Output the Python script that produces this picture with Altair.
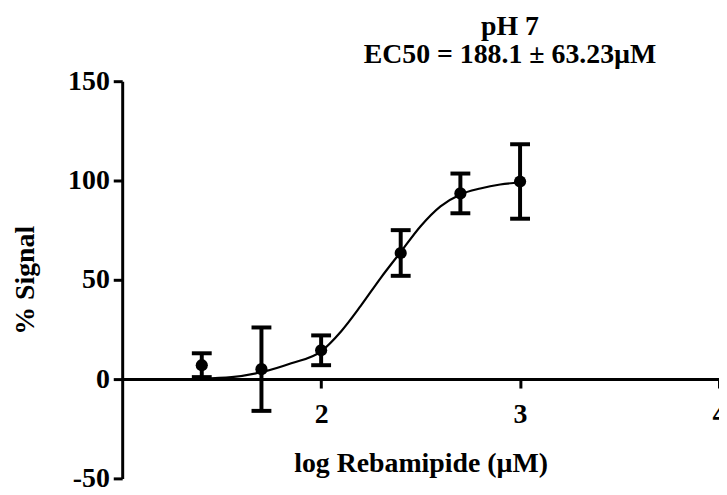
import altair as alt
import pandas as pd

# Measured data points (log concentration, mean % signal, error)
log_conc = [1.40, 1.70, 2.00, 2.40, 2.70, 3.00]
mean_signal = [7.0, 5.0, 14.5, 63.5, 93.5, 99.5]
err_signal = [6.0, 21.0, 7.5, 11.5, 10.0, 18.75]

# Fitted curve
curve_x = [1.40, 1.55, 1.70, 1.85, 2.00, 2.10, 2.20, 2.30, 2.40, 2.50, 2.60, 2.70, 2.80, 2.90, 3.00]
curve_y = [0.3, 1.0, 3.5, 8.0, 14.0, 24.0, 37.0, 51.0, 64.0, 77.0, 87.0, 93.0, 96.0, 98.0, 99.0]

x_ticks = [2, 3, 4]
y_ticks = [-50, 0, 50, 100, 150]

title_lines = ["pH 7", "EC50 = 188.1 ± 63.23µM"]
x_title = "log Rebamipide (µM)"
y_title = "% Signal"

FONT = "Liberation Serif"
FS = 28

pts = pd.DataFrame({"x": log_conc, "y": mean_signal, "e": err_signal})
pts["lo"] = pts["y"] - pts["e"]
pts["hi"] = pts["y"] + pts["e"]
curve = pd.DataFrame({"x": curve_x, "y": curve_y})

xs = alt.Scale(domain=[1, 4], nice=False, zero=False)
ys = alt.Scale(domain=[-50, 150], nice=False, zero=False)

x_axis = alt.Axis(values=x_ticks, title=x_title, offset=-100, labelPadding=13,
                  titlePadding=21, tickSize=9, labelFlush=False,
                  labelExpr="datum.value + ''")
y_axis = alt.Axis(values=y_ticks, title=y_title, labelPadding=4, titlePadding=28, tickSize=9,
                  labelExpr="datum.value + ''")

line = alt.Chart(curve).mark_line(color="black", strokeWidth=2.2, interpolate="monotone").encode(
    x=alt.X("x:Q", scale=xs, axis=x_axis),
    y=alt.Y("y:Q", scale=ys, axis=y_axis),
)

bars = alt.Chart(pts).mark_rule(color="black", strokeWidth=4).encode(
    x=alt.X("x:Q", scale=xs),
    y=alt.Y("lo:Q", scale=ys),
    y2="hi:Q",
)

cap_hi = alt.Chart(pts).mark_tick(color="black", size=20, thickness=4, orient="horizontal", opacity=1).encode(
    x=alt.X("x:Q", scale=xs),
    y=alt.Y("hi:Q", scale=ys),
)
cap_lo = alt.Chart(pts).mark_tick(color="black", size=20, thickness=4, orient="horizontal", opacity=1).encode(
    x=alt.X("x:Q", scale=xs),
    y=alt.Y("lo:Q", scale=ys),
)

dots = alt.Chart(pts).mark_circle(color="black", size=150, opacity=1).encode(
    x=alt.X("x:Q", scale=xs),
    y=alt.Y("y:Q", scale=ys),
)

chart = alt.layer(line, bars, cap_hi, cap_lo, dots).properties(
    width=601,
    height=400,
    autosize=alt.AutoSizeParams(type="none"),
    padding={"left": 115, "top": 72, "right": 0, "bottom": 14},
    title=alt.TitleParams(
        title_lines, font=FONT, fontSize=FS, fontWeight="bold", color="black",
        anchor="middle", dx=90, offset=-2, lineHeight=29,
    ),
).configure_view(stroke=None).configure_axis(
    grid=False,
    domainColor="black", domainWidth=3,
    tickColor="black", tickWidth=3,
    labelFont=FONT, labelFontSize=FS, labelFontWeight="bold", labelColor="black",
    titleFont=FONT, titleFontSize=FS, titleFontWeight="bold", titleColor="black",
)

chart.save("out.html", embed_options={"renderer": "svg", "actions": False})
